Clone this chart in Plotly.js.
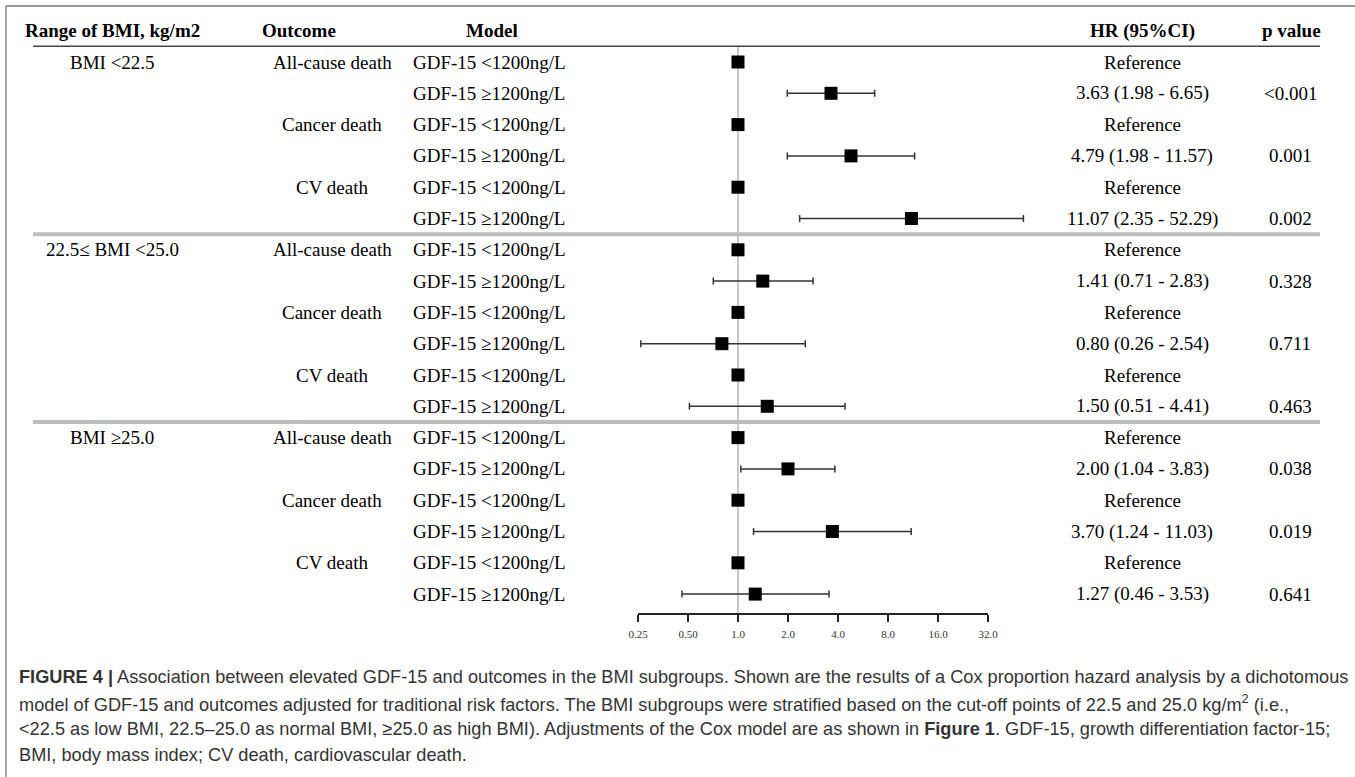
<!DOCTYPE html>
<html>
<head>
<meta charset="utf-8">
<script src="https://cdn.plot.ly/plotly-3.0.1.min.js"></script>
<style>html,body{margin:0;padding:0;background:#fff;}#chart{width:1355px;height:777px;}</style>
</head>
<body>
<div id="chart"></div>
<script>
// ---------------- data ----------------
const bmiGroups = ['BMI <22.5', '22.5\u2264 BMI <25.0', 'BMI \u226525.0'];
const outcomes = ['All-cause death', 'Cancer death', 'CV death'];
const models = ['GDF-15 <1200ng/L', 'GDF-15 \u22651200ng/L'];
const hr  = [1, 3.63, 1, 4.79, 1, 11.07,  1, 1.41, 1, 0.80, 1, 1.50,  1, 2.00, 1, 3.70, 1, 1.27];
const lo  = [1, 1.98, 1, 1.98, 1, 2.35,   1, 0.71, 1, 0.26, 1, 0.51,  1, 1.04, 1, 1.24, 1, 0.46];
const hi  = [1, 6.65, 1, 11.57, 1, 52.29, 1, 2.83, 1, 2.54, 1, 4.41,  1, 3.83, 1, 11.03, 1, 3.53];
const isRef = [true, false, true, false, true, false, true, false, true, false, true, false, true, false, true, false, true, false];
const pValues = ['', '<0.001', '', '0.001', '', '0.002', '', '0.328', '', '0.711', '', '0.463', '', '0.038', '', '0.019', '', '0.641'];
const headers = ['Range of BMI, kg/m2', 'Outcome', 'Model', 'HR (95%CI)', 'p value'];
const tickVals = [0.25, 0.5, 1, 2, 4, 8, 16, 32];
const tickText = ['0.25', '0.50', '1.0', '2.0', '4.0', '8.0', '16.0', '32.0'];
const captionLines = [
  '<b>FIGURE 4 |</b> Association between elevated GDF-15 and outcomes in the BMI subgroups. Shown are the results of a Cox proportion hazard analysis by a dichotomous',
  'model of GDF-15 and outcomes adjusted for traditional risk factors. The BMI subgroups were stratified based on the cut-off points of 22.5 and 25.0 kg/m<sup>2</sup> (i.e.,',
  '&lt;22.5 as low BMI, 22.5\u201325.0 as normal BMI, \u226525.0 as high BMI). Adjustments of the Cox model are as shown in <b>Figure 1</b>. GDF-15, growth differentiation factor-15;',
  'BMI, body mass index; CV death, cardiovascular death.'
];

// ---------------- layout helpers ----------------
const W = 1355, H = 777;
const ROW0 = 62, ROWH = 31.3;
const px = x => x / W;
const py = y => 1 - y / H;
const esc = s => s.replace(/</g, '&lt;');
const SERIF = 'Liberation Serif, Times New Roman, serif';
const SANS = 'Liberation Sans, Arial, sans-serif';
const FS = 19;

const colX = {group: 112, outcome: 332, model: 489, hr: 1142, p: 1290};
const headX = [113, 299, 492, 1142, 1291];

const axL = 638, axR = 988;            // pixel span of 0.25 .. 32
const dataL = 560, dataR = 1080;       // data subplot span
const lmin = Math.log10(tickVals[0]), lmax = Math.log10(tickVals[tickVals.length - 1]);
const ppd = (axR - axL) / (lmax - lmin);
const xr = [lmin - (axL - dataL) / ppd, lmax + (dataR - axR) / ppd];

const rows = hr.map((_, i) => i);

const annotations = [];
headers.forEach((h, k) => annotations.push({
  xref: 'paper', yref: 'y', x: px(headX[k]), y: -1, xanchor: 'center', yanchor: 'middle',
  text: '<b>' + esc(h) + '</b>', showarrow: false, font: {family: SERIF, size: FS, color: '#000'}
}));
rows.forEach(i => {
  const g = Math.floor(i / 6), o = Math.floor((i % 6) / 2), m = i % 2;
  const add = (x, t) => annotations.push({
    xref: 'paper', yref: 'y', x: px(x), y: i, xanchor: 'center', yanchor: 'middle',
    text: esc(t), showarrow: false, font: {family: SERIF, size: FS, color: '#000'}
  });
  if (i % 6 === 0) add(colX.group, bmiGroups[g]);
  if (m === 0) add(colX.outcome, outcomes[o]);
  add(colX.model, models[m]);
  add(colX.hr, isRef[i] ? 'Reference' : hr[i].toFixed(2) + ' (' + lo[i].toFixed(2) + ' - ' + hi[i].toFixed(2) + ')');
  if (pValues[i]) add(colX.p, pValues[i]);
});
captionLines.forEach((t, k) => annotations.push({
  xref: 'paper', yref: 'paper', x: px(17), y: py(677 + k * 26), xanchor: 'left', yanchor: 'middle',
  text: t, showarrow: false, font: {family: SANS, size: 18.2, color: '#333'}
}));

const shapes = [
  // frame
  {type: 'line', xref: 'paper', yref: 'paper', x0: px(6), x1: 1, y0: py(6), y1: py(6), line: {color: '#777', width: 1.5}},
  {type: 'line', xref: 'paper', yref: 'paper', x0: px(6), x1: px(6), y0: py(6), y1: 0, line: {color: '#888', width: 1.5}},
  // header underline
  {type: 'line', xref: 'paper', yref: 'y', x0: px(33), x1: px(1320), y0: -0.5, y1: -0.5, line: {color: '#444', width: 1.5}},
  // group separators
  {type: 'line', xref: 'paper', yref: 'y', x0: px(33), x1: px(1320), y0: 5.5, y1: 5.5, line: {color: '#bdbdbd', width: 4}},
  {type: 'line', xref: 'paper', yref: 'y', x0: px(33), x1: px(1320), y0: 11.5, y1: 11.5, line: {color: '#bdbdbd', width: 4}},
  // reference line at HR = 1
  {type: 'line', xref: 'x', yref: 'paper', x0: 1, x1: 1, y0: py(46), y1: py(613), line: {color: '#c8c8c8', width: 2}, layer: 'below'}
];

const trace = {
  type: 'scatter', mode: 'markers', x: hr, y: rows, xaxis: 'x', yaxis: 'y',
  marker: {symbol: 'square', size: 13, color: '#000'},
  error_x: {type: 'data', symmetric: false,
    array: hr.map((v, i) => hi[i] - v), arrayminus: hr.map((v, i) => v - lo[i]),
    color: '#333', thickness: 1.5, width: 3.5},
  hoverinfo: 'skip'
};
// empty trace that registers the tick axis (x2) so it gets drawn
const axisHolder = {type: 'scatter', mode: 'markers', x: [], y: [], xaxis: 'x2', yaxis: 'y', hoverinfo: 'skip', showlegend: false};

const layout = {
  width: W, height: H, margin: {l: 0, r: 0, t: 0, b: 0, pad: 0},
  paper_bgcolor: '#fff', plot_bgcolor: 'rgba(0,0,0,0)', showlegend: false,
  xaxis: {domain: [px(dataL), px(dataR)], type: 'log', range: xr, visible: false, fixedrange: true},
  xaxis2: {domain: [px(axL), px(axR)], type: 'log', range: [lmin, lmax], anchor: 'free', position: py(613),
    showline: true, linecolor: '#222', linewidth: 1.5, ticks: 'outside', ticklen: 7, tickwidth: 1.5, tickcolor: '#222',
    tickmode: 'array', tickvals: tickVals, ticktext: tickText, ticklabelstandoff: 3,
    tickfont: {family: SERIF, size: 11, color: '#333'}, showgrid: false, zeroline: false, fixedrange: true},
  yaxis: {domain: [0, 1], range: [(H - ROW0) / ROWH, -ROW0 / ROWH], visible: false, fixedrange: true},
  shapes: shapes, annotations: annotations
};

Plotly.newPlot('chart', [trace, axisHolder], layout, {displayModeBar: false, staticPlot: true});
</script>
</body>
</html>
